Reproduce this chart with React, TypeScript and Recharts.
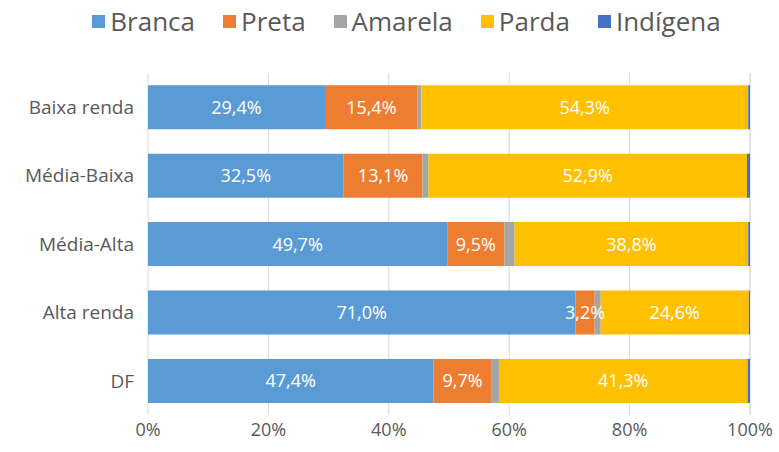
import React from 'react';
import { BarChart, Bar, XAxis, YAxis, CartesianGrid, Legend, LabelList } from 'recharts';

const categories = ['Baixa renda', 'Média-Baixa', 'Média-Alta', 'Alta renda', 'DF'];
const branca = [29.4, 32.5, 49.7, 71.0, 47.4];
const preta = [15.4, 13.1, 9.5, 3.2, 9.7];
const amarela = [0.6, 1.0, 1.7, 1.0, 1.2];
const parda = [54.3, 52.9, 38.8, 24.6, 41.3];
const indigena = [0.3, 0.5, 0.3, 0.2, 0.4];
const xTicks = [0, 20, 40, 60, 80, 100];

const series = [
  { key: 'Branca', color: '#5B9BD5', label: true },
  { key: 'Preta', color: '#ED7D31', label: true },
  { key: 'Amarela', color: '#A5A5A5', label: false },
  { key: 'Parda', color: '#FFC000', label: true },
  { key: 'Indígena', color: '#4472C4', label: false },
];

const data = categories.map((name, i) => ({
  name,
  Branca: branca[i],
  Preta: preta[i],
  Amarela: amarela[i],
  Parda: parda[i],
  'Indígena': indigena[i],
}));

const FONT = '"Open Sans", sans-serif';
const TEXT = '#595959';

const fmt = (v: any) => `${Number(v).toFixed(1).replace('.', ',')}%`;

const renderLegend = () => (
  <div
    style={{
      display: 'flex',
      justifyContent: 'center',
      gap: 28,
      paddingLeft: 34,
      fontFamily: FONT,
      fontSize: 26,
      color: TEXT,
      lineHeight: '30px',
    }}
  >
    {series.map((s) => (
      <div key={s.key} style={{ display: 'flex', alignItems: 'center' }}>
        <span style={{ display: 'inline-block', width: 13, height: 13, background: s.color, marginRight: 5 }} />
        <span>{s.key}</span>
      </div>
    ))}
  </div>
);

export default function App() {
  return (
    <div style={{ position: 'absolute', left: 0, top: 0, background: '#fff' }}>
      <BarChart
        width={779}
        height={452}
        data={data}
        layout="vertical"
        margin={{ top: 43, right: 29, bottom: 7, left: 8 }}
        barCategoryGap="18%"
      >
        <CartesianGrid horizontal={false} stroke="#d9d9d9" />
        <XAxis
          type="number"
          domain={[0, 100]}
          ticks={xTicks}
          tickFormatter={(v) => `${v}%`}
          axisLine={false}
          tickLine={false}
          height={30}
          tick={{ fontSize: 18, fill: TEXT, fontFamily: FONT }}
          interval={0}
        />
        <YAxis
          type="category"
          dataKey="name"
          width={140}
          axisLine={false}
          tickLine={false}
          tickSize={0}
          tickMargin={14}
          tick={{ fontSize: 19, fill: TEXT, fontFamily: FONT }}
        />
        <Legend verticalAlign="top" align="center" content={renderLegend} wrapperStyle={{ top: 6, left: 0, width: 779 }} />
        {series.map((s) => (
          <Bar key={s.key} dataKey={s.key} stackId="a" fill={s.color} isAnimationActive={false}>
            {s.label && (
              <LabelList
                dataKey={s.key}
                position="center"
                formatter={fmt}
                style={{ fill: '#fff', fontSize: 18, fontFamily: FONT }}
              />
            )}
          </Bar>
        ))}
      </BarChart>
    </div>
  );
}
